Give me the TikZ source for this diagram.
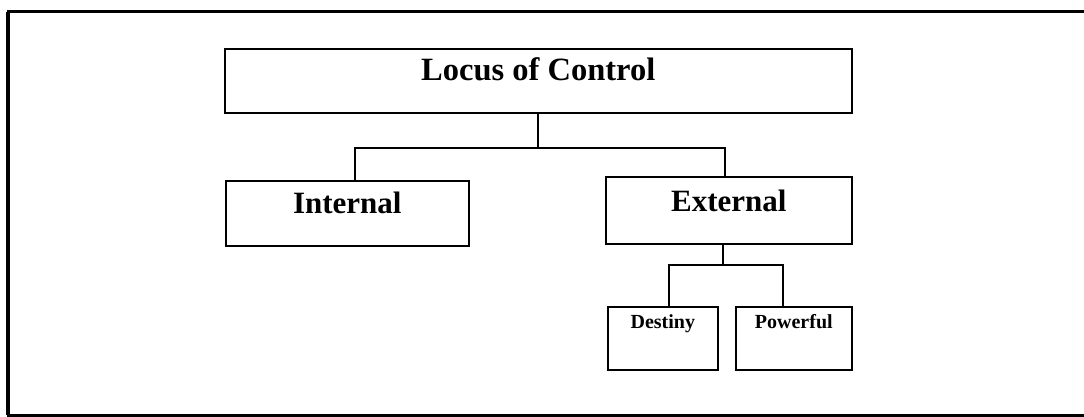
\documentclass[tikz,border=0pt]{standalone}
\usepackage{fontspec}
\setmainfont{Liberation Serif}
\tikzset{
  box/.style={draw, line width=1.6pt, inner sep=0pt, anchor=north west},
  bigtext/.style={font=\fontsize{31}{36}\selectfont\bfseries},
  smalltext/.style={font=\fontsize{20}{24}\selectfont\bfseries},
  link/.style={line width=1.6pt}
}
\begin{document}
\begin{tikzpicture}[x=1pt,y=-1pt]
  \useasboundingbox (0,0) rectangle (1084,417);
  % outer frame
  \draw[line width=3pt] (1084,12) -- (8,12) -- (8,415) -- (1084,415);
  \draw[line width=4.5pt] (8,12) -- (8,415);

  \node[box, bigtext, font=\fontsize{32.5}{36}\selectfont\bfseries, minimum width=627pt, text height=32pt, text depth=32pt] (top) at (224,48) {Locus of Control};
  \node[box, bigtext, minimum width=243pt, text height=33pt, text depth=32pt] (internal) at (225,180) {Internal};
  \node[box, bigtext, minimum width=246pt, text height=35pt, text depth=32pt] (external) at (605,176) {External};
  \node[box, smalltext, minimum width=110pt, text height=22pt, text depth=41pt] (destiny) at (607,306) {Destiny};
  \node[box, smalltext, minimum width=116pt, text height=22pt, text depth=41pt] (powerful) at (735,306) {Powerful};

  \coordinate (j1) at (538,148);
  \coordinate (hl) at (355,148);
  \coordinate (hr) at (725,148);
  \coordinate (k) at (723,265);
  \coordinate (kl) at (669,265);
  \coordinate (kr) at (783,265);

  \draw[link] (top.south -| j1) -- (j1);
  \draw[link] (internal.north -| hl) -- (hl) -- (hr) -- (external.north -| hr);
  \draw[link] (external.south -| k) -- (k);
  \draw[link] (destiny.north -| kl) -- (kl) -- (kr) -- (powerful.north -| kr);
\end{tikzpicture}
\end{document}
